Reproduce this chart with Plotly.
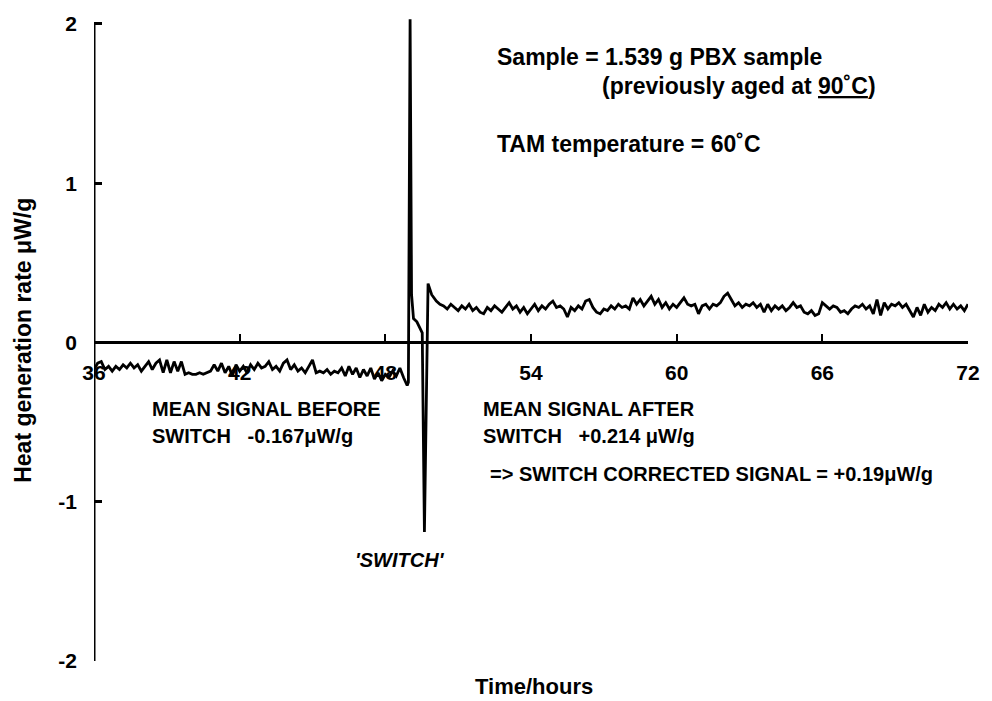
import plotly.graph_objects as go

# ---------------- data ----------------
STEP = 0.15  # hours between logged points

t_before_start = 36.0
heat_before = [
    -0.17, -0.13, -0.12, -0.17, -0.15, -0.18, -0.15, -0.17, -0.14, -0.16,
    -0.13, -0.16, -0.14, -0.18, -0.15, -0.12, -0.17, -0.13, -0.11, -0.19,
    -0.11, -0.19, -0.12, -0.18, -0.12, -0.20, -0.19, -0.20, -0.20, -0.19,
    -0.20, -0.19, -0.18, -0.14, -0.18, -0.13, -0.19, -0.15, -0.21, -0.14,
    -0.18, -0.15, -0.19, -0.14, -0.17, -0.13, -0.16, -0.15, -0.12, -0.17,
    -0.15, -0.18, -0.13, -0.11, -0.17, -0.14, -0.18, -0.16, -0.19, -0.15,
    -0.11, -0.19, -0.18, -0.19, -0.17, -0.20, -0.18, -0.19, -0.16, -0.21,
    -0.15, -0.20, -0.16, -0.22, -0.17, -0.21, -0.16, -0.23, -0.19, -0.24,
    -0.20, -0.22, -0.18, -0.21, -0.16, -0.22, -0.27,
]

t_switch = [48.95, 49.02, 49.08, 49.16, 49.30, 49.43, 49.52, 49.61, 49.76, 49.91, 50.10]
heat_switch = [-0.25, 2.03, 0.30, 0.15, 0.13, 0.09, 0.06, -1.19, 0.37, 0.30, 0.26]

t_after_start = 50.25
heat_after = [
    0.24, 0.23, 0.21, 0.24, 0.22, 0.20, 0.23, 0.21, 0.24, 0.20,
    0.22, 0.19, 0.18, 0.22, 0.20, 0.23, 0.21, 0.19, 0.22, 0.25,
    0.21, 0.23, 0.19, 0.22, 0.18, 0.21, 0.24, 0.20, 0.23, 0.21,
    0.24, 0.26, 0.22, 0.23, 0.21, 0.16, 0.22, 0.20, 0.23, 0.21,
    0.26, 0.27, 0.22, 0.19, 0.18, 0.21, 0.20, 0.23, 0.21, 0.24,
    0.22, 0.23, 0.21, 0.28, 0.24, 0.27, 0.23, 0.26, 0.29, 0.24,
    0.27, 0.22, 0.25, 0.21, 0.24, 0.22, 0.25, 0.28, 0.24, 0.23,
    0.24, 0.18, 0.23, 0.24, 0.21, 0.24, 0.23, 0.25, 0.29, 0.31,
    0.27, 0.23, 0.25, 0.22, 0.24, 0.23, 0.25, 0.22, 0.24, 0.19,
    0.24, 0.20, 0.23, 0.21, 0.23, 0.20, 0.22, 0.25, 0.22, 0.23,
    0.19, 0.18, 0.20, 0.17, 0.18, 0.25, 0.23, 0.21, 0.23, 0.22,
    0.19, 0.20, 0.18, 0.21, 0.23, 0.22, 0.24, 0.21, 0.23, 0.18,
    0.27, 0.17, 0.25, 0.21, 0.24, 0.23, 0.25, 0.22, 0.24, 0.20,
    0.16, 0.22, 0.17, 0.24, 0.19, 0.22, 0.20, 0.24, 0.22, 0.25,
    0.21, 0.24, 0.21, 0.23, 0.20, 0.24,
]

x_ticks = [36, 42, 48, 54, 60, 66, 72]
y_ticks = [-2, -1, 0, 1, 2]

# ---------------- build series ----------------
t_before = [round(t_before_start + STEP * i, 3) for i in range(len(heat_before))]
t_after = [round(t_after_start + STEP * i, 3) for i in range(len(heat_after))]
t_all = t_before + t_switch + t_after
heat_all = heat_before + heat_switch + heat_after

FONT = "Liberation Sans, Arial, Helvetica, sans-serif"

YMIN, YMAX = -2.0, 2.05
W, H = 992, 701
ML, MR, MT, MB = 94, 14, 16, 40
PW, PH = W - ML - MR, H - MT - MB


def paper(xp, yp):
    return (xp - ML) / PW, 1 - (yp - MT) / PH


fig = go.Figure()
fig.add_trace(go.Scatter(x=t_all, y=heat_all, mode="lines",
                         line=dict(color="black", width=2.8),
                         hoverinfo="skip", showlegend=False))

fig.update_xaxes(range=[36, 72], tickvals=x_ticks, ticktext=[str(v) for v in x_ticks],
                 showgrid=False, zeroline=False, showline=True, linecolor="black",
                 linewidth=2.5, ticks="inside", ticklen=8, tickwidth=2, tickcolor="black",
                 anchor="free", position=(0 - YMIN) / (YMAX - YMIN),
                 ticklabelstandoff=11,
                 tickfont=dict(family=FONT, size=21, color="black", weight="bold"))
fig.update_yaxes(range=[YMIN, YMAX], tickvals=y_ticks, ticktext=[str(v) for v in y_ticks],
                 showgrid=False, zeroline=False, showline=False,
                 ticks="inside", ticklen=8, tickwidth=3, tickcolor="black",
                 ticklabelstandoff=16,
                 tickfont=dict(family=FONT, size=21, color="black", weight="bold"))

# y axis bracket line (from -2 to 2)
fig.add_shape(type="line", xref="x", yref="y", x0=36, x1=36, y0=-2, y1=2,
              line=dict(color="black", width=3))


def note(text, xp, yp, size=23, xanchor="left", angle=0, italic=False):
    x, y = paper(xp, yp)
    fig.add_annotation(text=text, x=x, y=y, xref="paper", yref="paper",
                       xanchor=xanchor, yanchor="middle", showarrow=False,
                       textangle=angle,
                       font=dict(family=FONT, size=size, color="black", weight="bold",
                                 style="italic" if italic else "normal"))


note("Sample = 1.539 g PBX sample", 500, 57)
note("(previously aged at <u>90˚C</u>)", 606, 86)
note("TAM temperature = 60˚C", 500, 144)

note("MEAN SIGNAL BEFORE", 151, 409, size=20)
note("SWITCH\u00a0\u00a0\u00a0-0.167μW/g", 151, 436, size=20)
note("MEAN SIGNAL AFTER", 485, 409, size=20)
note("SWITCH\u00a0\u00a0\u00a0+0.214 μW/g", 485, 436, size=20)
note("=> SWITCH CORRECTED SIGNAL = +0.19μW/g", 493, 474, size=20)
note("'SWITCH'", 403, 560, size=20, xanchor="center", italic=True)

note("Time/hours", 539, 686, size=22, xanchor="center")
note("Heat generation rate μW/g", 22, 340, size=23, xanchor="center", angle=-90)

fig.update_layout(width=W, height=H, margin=dict(l=ML, r=MR, t=MT, b=MB),
                  plot_bgcolor="white", paper_bgcolor="white", showlegend=False,
                  font=dict(family=FONT, color="black"))

fig.write_html("out.html")
